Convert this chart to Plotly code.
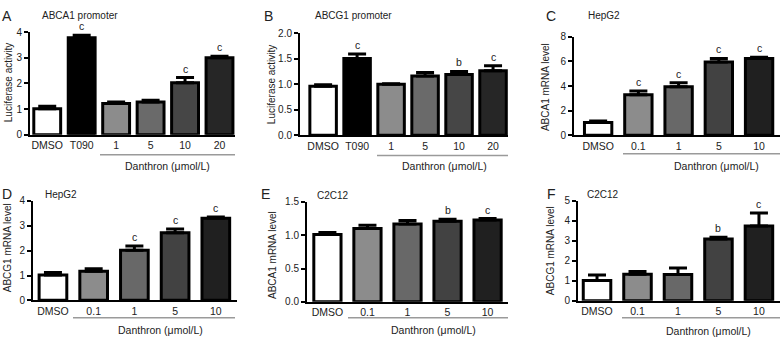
import plotly.graph_objects as go

W, H = 784, 344
FONT = "Liberation Sans, Arial, sans-serif"
TXT = "#222222"

# ---------------- data ----------------
a_cats = ["DMSO", "T090", "1", "5", "10", "20"]
a_vals = [1.02, 3.78, 1.22, 1.28, 2.03, 3.00]
a_errs = [0.09, 0.10, 0.06, 0.07, 0.20, 0.06]
a_sig = ["", "c", "", "", "c", "c"]

b_cats = ["DMSO", "T090", "1", "5", "10", "20"]
b_vals = [0.96, 1.50, 1.00, 1.16, 1.19, 1.26]
b_errs = [0.03, 0.09, 0.01, 0.07, 0.06, 0.10]
b_sig = ["", "c", "", "", "b", "c"]

c_cats = ["DMSO", "0.1", "1", "5", "10"]
c_vals = [1.05, 3.30, 3.95, 5.95, 6.25]
c_errs = [0.12, 0.30, 0.32, 0.30, 0.10]
c_sig = ["", "c", "c", "c", "c"]

d_cats = ["DMSO", "0.1", "1", "5", "10"]
d_vals = [1.02, 1.17, 2.02, 2.72, 3.30]
d_errs = [0.10, 0.10, 0.17, 0.15, 0.05]
d_sig = ["", "", "c", "c", "c"]

e_cats = ["DMSO", "0.1", "1", "5", "10"]
e_vals = [1.01, 1.10, 1.17, 1.21, 1.23]
e_errs = [0.03, 0.05, 0.05, 0.03, 0.02]
e_sig = ["", "", "", "b", "c"]

f_cats = ["DMSO", "0.1", "1", "5", "10"]
f_vals = [1.02, 1.33, 1.32, 3.10, 3.75]
f_errs = [0.27, 0.14, 0.32, 0.08, 0.65]
f_sig = ["", "", "", "b", "c"]

ytitles = ["Luciferase activity", "Luciferase activity", "ABCA1 mRNA level",
           "ABCG1 mRNA level", "ABCA1 mRNA level", "ABCG1 mRNA level"]
ptitles = ["ABCA1 promoter", "ABCG1 promoter", "HepG2", "HepG2", "C2C12", "C2C12"]
letters = ["A", "B", "C", "D", "E", "F"]
xgroup_label = "Danthron (μmol/L)"

y_ticks = [
    [0, 1, 2, 3, 4],
    [0, 0.5, 1.0, 1.5, 2.0],
    [0, 2, 4, 6, 8],
    [0, 1, 2, 3, 4],
    [0, 0.5, 1.0, 1.5],
    [0, 1, 2, 3, 4, 5],
]
y_fmt = ["d", ".1f", "d", "d", ".1f", "d"]

colors6 = ["white", "black", "#8c8c8c", "#6a6a6a", "#464646", "#262626"]
colors5 = ["white", "#8c8c8c", "#686868", "#424242", "#202020"]

# ---------------- layout geometry (pixels) ----------------
panels = [
    dict(cats=a_cats, vals=a_vals, errs=a_errs, sig=a_sig, colors=colors6,
         x0=30, x1=235, yt=27, yb=133.5, xr=[-0.5, 5.45], bw=0.78,
         ul=(100, 235, 154), lab=(167, 166), yt_pos=(8, 80), tt=(40, 10), let=(7, 10)),
    dict(cats=b_cats, vals=b_vals, errs=b_errs, sig=b_sig, colors=colors6,
         x0=300, x1=508, yt=28, yb=134, xr=[-0.68, 5.44], bw=0.78,
         ul=(377, 508, 155), lab=(444, 166), yt_pos=(271, 82), tt=(313, 10), let=(268, 10)),
    dict(cats=c_cats, vals=c_vals, errs=c_errs, sig=c_sig, colors=colors5,
         x0=574, x1=780, yt=32, yb=134, xr=[-0.6, 4.52], bw=0.68,
         ul=(623, 780, 153), lab=(716, 166), yt_pos=(545, 84), tt=(586, 10), let=(551, 10)),
    dict(cats=d_cats, vals=d_vals, errs=d_errs, sig=d_sig, colors=colors5,
         x0=33, x1=237, yt=202, yb=305, xr=[-0.49, 4.52], bw=0.68,
         ul=(73, 235, 323), lab=(160, 336), yt_pos=(7, 251), tt=(43, 195), let=(7, 195)),
    dict(cats=e_cats, vals=e_vals, errs=e_errs, sig=e_sig, colors=colors5,
         x0=307, x1=508, yt=203, yb=306.5, xr=[-0.51, 4.51], bw=0.68,
         ul=(348, 508, 323), lab=(433, 336), yt_pos=(272, 258), tt=(315, 196), let=(265, 195)),
    dict(cats=f_cats, vals=f_vals, errs=f_errs, sig=f_sig, colors=colors5,
         x0=578, x1=780, yt=202, yb=305.5, xr=[-0.47, 4.52], bw=0.68,
         ul=(622, 780, 323), lab=(708, 337), yt_pos=(550, 254), tt=(585, 195), let=(551, 195)),
]

def px(x):
    return x / W

def py(y):
    return 1 - y / H

fig = go.Figure()
annotations = []
shapes = []
layout = dict(
    width=W, height=H, margin=dict(l=0, r=0, t=0, b=0),
    paper_bgcolor="white", plot_bgcolor="white", showlegend=False,
    font=dict(family=FONT, size=10, color=TXT),
)

for i, p in enumerate(panels):
    n = i + 1
    xa = "x" if n == 1 else f"x{n}"
    ya = "y" if n == 1 else f"y{n}"
    xs = list(range(len(p["cats"])))
    fig.add_trace(go.Bar(
        x=xs, y=p["vals"], xaxis=xa, yaxis=ya, width=p["bw"],
        marker=dict(color=p["colors"], line=dict(color="black", width=3)),
        error_y=dict(type="data", array=p["errs"], arrayminus=[0] * len(xs),
                     symmetric=False, color="black", thickness=3, width=9),
        hoverinfo="skip",
    ))
    ymax = y_ticks[i][-1]
    layout["xaxis" if n == 1 else f"xaxis{n}"] = dict(
        domain=[px(p["x0"]), px(p["x1"])], anchor=ya, range=p["xr"],
        tickmode="array", tickvals=xs, ticktext=p["cats"],
        showline=True, linecolor="black", linewidth=2, ticks="",
        showgrid=False, zeroline=False, fixedrange=True,
        tickfont=dict(family=FONT, size=10.5, color=TXT),
    )
    layout["yaxis" if n == 1 else f"yaxis{n}"] = dict(
        domain=[py(p["yb"]), py(p["yt"])], anchor=xa, range=[0, ymax],
        tickmode="array", tickvals=y_ticks[i], tickformat=y_fmt[i],
        showline=True, linecolor="black", linewidth=2,
        ticks="outside", ticklen=4, tickwidth=2, tickcolor="black",
        showgrid=False, zeroline=False, fixedrange=True,
        tickfont=dict(family=FONT, size=10, color=TXT),
    )
    # significance letters
    for j, s in enumerate(p["sig"]):
        if s:
            annotations.append(dict(
                x=j, y=p["vals"][j] + p["errs"][j], xref=xa, yref=ya,
                text=s, showarrow=False, yanchor="middle", yshift=9,
                font=dict(family=FONT, size=10.5, color=TXT),
            ))
    # underline
    ux0, ux1, uy = p["ul"]
    shapes.append(dict(type="line", xref="paper", yref="paper",
                       x0=px(ux0), x1=px(ux1), y0=py(uy), y1=py(uy),
                       line=dict(color="#9a9a9a", width=1.5)))
    # group label
    annotations.append(dict(x=px(p["lab"][0]), y=py(p["lab"][1]), xref="paper", yref="paper",
                            text=xgroup_label, showarrow=False, xanchor="center", yanchor="middle",
                            font=dict(family=FONT, size=10.5, color=TXT)))
    # y title
    annotations.append(dict(x=px(p["yt_pos"][0]), y=py(p["yt_pos"][1]), xref="paper", yref="paper",
                            text=ytitles[i], showarrow=False, textangle=-90,
                            xanchor="center", yanchor="middle",
                            font=dict(family=FONT, size=10, color=TXT)))
    # panel title
    annotations.append(dict(x=px(p["tt"][0]), y=py(p["tt"][1]), xref="paper", yref="paper",
                            text=ptitles[i], showarrow=False, xanchor="left", yanchor="middle",
                            font=dict(family=FONT, size=10, color=TXT)))
    # panel letter
    annotations.append(dict(x=px(p["let"][0]), y=py(p["let"][1]), xref="paper", yref="paper",
                            text=letters[i], showarrow=False, xanchor="center", yanchor="middle",
                            font=dict(family=FONT, size=14, color=TXT)))

layout["annotations"] = annotations
layout["shapes"] = shapes
fig.update_layout(**layout)
fig.write_html("out.html", config={"displayModeBar": False},
               post_script="document.body.style.margin='0px';document.body.style.padding='0px';")
